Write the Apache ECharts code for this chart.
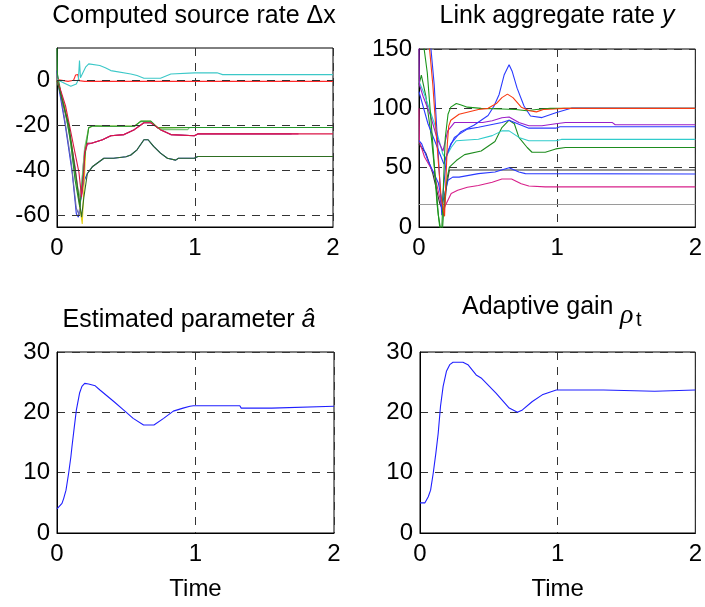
<!DOCTYPE html>
<html>
<head>
<meta charset="utf-8">
<script src="https://cdn.jsdelivr.net/npm/echarts@6/dist/echarts.min.js"></script>
<style>
html,body{margin:0;padding:0;background:#fff;}
#main{width:705px;height:607px;}
</style>
</head>
<body>
<div id="main"></div>
<script>
// ---------- data (time, value) ----------
// Top-left: computed source rate Δx
const TL_cyan = [[0,0.5],[0.05,-1],[0.1,-2.5],[0.14,-1.5],[0.155,0.5],[0.163,9],[0.17,1.3],[0.18,2],[0.207,6],[0.23,7.5],[0.31,6.8],[0.35,5.8],[0.39,4.5],[0.535,3],[0.58,2.3],[0.63,1.1],[0.75,1.1],[0.825,3],[0.995,3.5],[1.16,3.5],[1.2,2.7],[2,2.7]];
const TL_red = [[0,0.5],[0.08,-0.3],[0.12,0.2],[0.135,2.5],[0.15,2.8],[0.16,0],[0.2,-0.3],[2,-0.3]];
const TL_blue = [[0,4.5],[0.01,-2],[0.06,-20],[0.11,-41],[0.14,-59.5],[0.155,-61],[0.175,-52],[0.195,-45],[0.22,-41.5],[0.256,-38.5],[0.34,-34.7],[0.41,-34.7],[0.5,-34],[0.535,-33.2],[0.58,-30.9],[0.63,-26.4],[0.66,-26.4],[0.7,-29.4],[0.75,-32.4],[0.8,-34.7],[0.86,-35.5],[0.88,-34.7],[0.995,-34.7],[1.02,-33.9],[1.72,-33.9]];
const TL_slate = [[0,2],[0.02,-4],[0.05,-15],[0.1,-35],[0.14,-57],[0.16,-60],[0.175,-50],[0.19,-38],[0.2,-32],[0.22,-28],[0.25,-28],[0.33,-26.4],[0.39,-24.6],[0.486,-24.1],[0.56,-21.9],[0.63,-18.8],[0.68,-18.8],[0.75,-21.9],[0.825,-24.1],[0.995,-24.6],[1.02,-23.8],[1.7,-23.8]];
const TL_yellow = [[0,0],[0.06,-12],[0.11,-30],[0.15,-50],[0.183,-64],[0.195,-48],[0.21,-28],[0.23,-21],[0.26,-20.3],[0.56,-20.4],[0.607,-18.2],[0.68,-18.2],[0.73,-21],[1.0,-20.9],[1.7,-20.9]];
const TL_magenta = [[0,1],[0.03,-6],[0.08,-20],[0.13,-38],[0.165,-55],[0.18,-50],[0.2,-33],[0.22,-28.5],[0.25,-28],[0.33,-26.4],[0.39,-24.6],[0.486,-24.1],[0.56,-21.9],[0.63,-18.8],[0.68,-18.8],[0.75,-21.9],[0.825,-24.1],[0.995,-24.6],[1.02,-23.8],[1.75,-23.8]];
const TL_lightgreen = [[0,1],[0.04,-8],[0.09,-24],[0.13,-42],[0.16,-52],[0.18,-45],[0.2,-30],[0.23,-21],[0.26,-20.3],[0.56,-20.4],[0.607,-18.3],[0.68,-18.3],[0.73,-21.1],[0.75,-21.9],[0.947,-21.9],[0.96,-20.9],[1.8,-20.9]];
const TL_green = [[0,14.5],[0.003,3],[0.03,-6],[0.07,-17],[0.1,-28],[0.13,-44],[0.165,-56.5],[0.185,-45],[0.207,-31],[0.23,-21],[0.26,-20.2],[0.35,-20.4],[0.56,-20.4],[0.607,-18.1],[0.68,-18.1],[0.73,-21.1],[1.0,-20.9],[2,-20.9]];
const TL_crimson = [[0,0],[0.02,-3],[0.062,-11.3],[0.11,-26],[0.159,-41],[0.178,-52],[0.195,-41],[0.2,-32],[0.22,-28],[0.25,-28],[0.33,-26.4],[0.39,-24.6],[0.486,-24.1],[0.56,-21.9],[0.63,-18.8],[0.68,-18.8],[0.75,-21.9],[0.825,-24.1],[0.995,-24.6],[1.02,-23.8],[2,-23.8]];
const TL_darkgreen = [[0,0],[0.086,-20],[0.135,-41.5],[0.178,-61],[0.195,-52],[0.22,-41.5],[0.256,-38.5],[0.34,-34.7],[0.41,-34.7],[0.5,-34],[0.535,-33.2],[0.58,-30.9],[0.63,-26.4],[0.66,-26.4],[0.7,-29.4],[0.75,-32.4],[0.8,-34.7],[0.86,-35.5],[0.88,-34.7],[0.995,-34.7],[1.02,-33.9],[2,-33.9]];

// Top-right: link aggregate rate y
const TR_gray = [[0,19],[2,19]];
const TR_black = [[0,70],[0.05,62],[0.1,45],[0.15,20],[0.18,12],[0.2,35],[0.22,48],[1.0,48],[2,48]];
const TR_magenta = [[0,100],[0.003,72],[0.02,66],[0.04,59],[0.11,45],[0.15,25],[0.172,11.7],[0.19,18],[0.233,28.3],[0.28,31],[0.35,33.5],[0.43,35],[0.53,37.7],[0.6,40.5],[0.67,40.5],[0.74,36.4],[0.795,34.5],[0.914,33.8],[2,33.8]];
const TR_blueLow = [[0,72.7],[0.02,70],[0.065,56],[0.14,37],[0.17,20],[0.19,30],[0.21,39.4],[0.244,42],[0.29,42],[0.43,45],[0.55,46.4],[0.652,50],[0.723,46.4],[0.77,45],[2,44.7]];
const TR_green67 = [[0,120],[0.017,128],[0.05,110],[0.09,75],[0.12,40],[0.14,10],[0.155,-1],[0.17,-2],[0.185,25],[0.205,42],[0.22,50.5],[0.27,56],[0.33,61],[0.45,64],[0.55,72],[0.6,83.8],[0.652,90],[0.69,87],[0.723,75.5],[0.783,67],[0.818,63],[0.914,63],[0.99,65.8],[1.06,67],[2,67]];
const TR_cyan = [[0,122.7],[0.04,111.6],[0.113,86.7],[0.172,61.6],[0.19,58],[0.233,67],[0.27,72.7],[0.43,74],[0.53,77],[0.6,81],[0.652,81],[0.723,75.5],[0.795,72.7],[0.99,72.7],[1.03,73.8],[2,73.8]];
const TR_blue84 = [[0,114],[0.065,87],[0.16,59],[0.18,53],[0.21,64],[0.256,75.5],[0.35,82.5],[0.43,84],[0.6,88],[0.652,90],[0.723,86.6],[0.795,83.3],[0.99,83.3],[1.02,84.5],[2,84.5]];
const TR_purple = [[0,152],[0.003,120],[0.03,110],[0.08,95],[0.13,75],[0.173,64],[0.208,81],[0.256,88],[0.46,88],[0.53,89.5],[0.6,92],[0.652,92.7],[0.723,88],[0.795,85.3],[0.89,85.3],[0.99,87],[1.06,88],[1.4,88],[1.42,86.2],[2,86.2]];
const TR_bluePeak = [[0.085,152],[0.11,120],[0.13,80],[0.15,40],[0.165,10],[0.175,30],[0.2,60],[0.23,70],[0.3,80],[0.4,86],[0.5,94],[0.543,102],[0.58,111.7],[0.616,128],[0.652,136.7],[0.675,131],[0.71,117],[0.76,102],[0.807,93.6],[0.89,92.2],[0.99,96.3],[1.107,100.2],[2,100]];
const TR_green100 = [[0.035,152],[0.06,130],[0.1,70],[0.13,20],[0.15,0],[0.165,-2],[0.175,30],[0.19,75],[0.21,95],[0.23,101],[0.27,104],[0.3,103],[0.35,101],[0.45,100],[0.6,99.5],[0.7,99],[0.78,98],[0.85,99],[0.95,100],[2,100]];
const TR_red = [[0.075,152],[0.1,120],[0.13,70],[0.16,25],[0.185,9],[0.195,40],[0.205,70],[0.215,85],[0.23,90],[0.29,95],[0.43,99],[0.5,100],[0.56,104],[0.6,109],[0.64,112],[0.68,109],[0.74,101],[0.8,98],[0.85,97],[0.9,99],[0.98,99.5],[1.05,100],[2,100]];

// Bottom-left: estimated parameter â
const BL_ahat = [[0,4.0],[0.036,4.9],[0.048,5.7],[0.065,7.1],[0.084,9.9],[0.1,12.6],[0.108,14.3],[0.125,17.6],[0.14,20.4],[0.163,23.2],[0.18,24.3],[0.2,24.8],[0.228,24.7],[0.276,24.4],[0.31,23.7],[0.41,21.8],[0.48,20.4],[0.55,19.0],[0.625,17.9],[0.7,17.9],[0.77,19.0],[0.84,20.2],[0.91,20.7],[0.96,21.0],[0.985,21.1],[1.32,21.1],[1.33,20.7],[1.55,20.7],[1.56,21.0],[2,21.0]];
// Bottom-right: adaptive gain ρt
const BR_rho = [[0,5.0],[0.036,5.0],[0.06,6.0],[0.077,7.1],[0.096,9.9],[0.115,13.2],[0.132,16.5],[0.149,21.0],[0.168,24.3],[0.192,26.8],[0.216,27.9],[0.24,28.3],[0.312,28.3],[0.348,27.9],[0.408,26.2],[0.444,25.7],[0.552,23.2],[0.648,20.7],[0.708,20.0],[0.744,20.4],[0.816,21.8],[0.888,22.9],[0.936,23.3],[0.99,23.7],[1.333,23.7],[1.345,23.5],[1.705,23.5],[1.717,23.7],[2,23.7]];

// tick labels / grid values
const xTicks = [0, 1, 2];
const TL_yTicks = [-60, -40, -20, 0];
const TL_yRange = [-65.4, 14.6];
const TR_yRange = [0, 150];
const B_yRange = [0, 30];

// ---------- chart ----------
const FONT = 'Liberation Sans, Arial, sans-serif';
const TICK_FS = 24;
const gridDash = [8, 7];
const gridColor = '#333';

const chart = echarts.init(document.getElementById('main'), null, {renderer: 'canvas'});

const grids = [
  {left: 57, top: 48, width: 276, height: 179},
  {left: 419, top: 49, width: 279, height: 178},
  {left: 57, top: 352, width: 277, height: 181},
  {left: 420, top: 352, width: 278, height: 181}
].map(g => Object.assign({show: true, borderColor: '#000', borderWidth: 1, backgroundColor: '#fff', containLabel: false}, g));

function xAxisFor(i, withName) {
  return {
    type: 'value', gridIndex: i, min: xTicks[0], max: xTicks[xTicks.length - 1], interval: 1,
    axisLine: {show: true, onZero: false, lineStyle: {color: '#000', width: 1}},
    axisTick: {show: false},
    axisLabel: {color: '#000', fontSize: TICK_FS, fontFamily: FONT, margin: 9},
    splitLine: {show: true, lineStyle: {color: gridColor, width: 1, type: gridDash}},
    name: withName ? 'Time' : '', nameLocation: 'middle', nameGap: 44,
    nameTextStyle: {color: '#000', fontSize: TICK_FS, fontFamily: FONT}
  };
}
function yAxisFor(i, range, interval, custom) {
  const ax = {
    type: 'value', gridIndex: i, min: range[0], max: range[1],
    axisLine: {show: true, onZero: false, lineStyle: {color: '#000', width: 1}},
    axisTick: {show: false},
    axisLabel: {color: '#000', fontSize: TICK_FS, fontFamily: FONT, margin: 7},
    splitLine: {show: !custom, lineStyle: {color: gridColor, width: 1, type: gridDash}}
  };
  if (custom) { ax.axisLabel.customValues = custom; }
  else { ax.interval = interval; }
  return ax;
}

function line(data, color, gi, z) {
  return {
    type: 'line', xAxisIndex: gi, yAxisIndex: gi, data: data,
    showSymbol: false, symbol: 'none', silent: true, clip: true,
    lineStyle: {color: color, width: 1.1}, z: z || 2
  };
}

const series = [];
// top-left
series.push(line(TL_blue, '#2a35e6', 0));
series.push(line(TL_slate, '#6c6ca8', 0));
series.push(line(TL_yellow, '#e6d21a', 0));
series.push(line(TL_magenta, '#c8289a', 0));
series.push(line(TL_lightgreen, '#7cc47c', 0));
series.push(line(TL_green, '#22962a', 0));
series.push(line(TL_crimson, '#dc1446', 0));
series.push(line(TL_darkgreen, '#2e6e22', 0));
series.push(line(TL_red, '#ff2a2a', 0));
series.push(line(TL_cyan, '#3cc8c8', 0));
// horizontal grid lines for top-left
series.push({
  type: 'line', xAxisIndex: 0, yAxisIndex: 0, data: [], silent: true, z: 1,
  markLine: {
    silent: true, symbol: ['none', 'none'], label: {show: false},
    lineStyle: {color: gridColor, width: 1, type: gridDash},
    data: TL_yTicks.map(v => ({yAxis: v}))
  }
});
// top-right
series.push(line(TR_gray, '#9a9a9a', 1));
series.push(line(TR_black, '#333333', 1));
series.push(line(TR_magenta, '#d8208a', 1));
series.push(line(TR_blueLow, '#2a3aff', 1));
series.push(line(TR_green67, '#1e8c1e', 1));
series.push(line(TR_cyan, '#30cccc', 1));
series.push(line(TR_blue84, '#2a3aff', 1));
series.push(line(TR_purple, '#9a1ec8', 1));
series.push(line(TR_bluePeak, '#2a3aff', 1));
series.push(line(TR_green100, '#1a961a', 1));
series.push(line(TR_red, '#f83a12', 1));
// bottom
series.push(line(BL_ahat, '#1f1fff', 2));
series.push(line(BR_rho, '#1f1fff', 3));

const titleFont = {fontFamily: FONT, fontSize: 25, fill: '#000'};

const option = {
  animation: false,
  grid: grids,
  xAxis: [xAxisFor(0, false), xAxisFor(1, false), xAxisFor(2, true), xAxisFor(3, true)],
  yAxis: [
    yAxisFor(0, TL_yRange, null, TL_yTicks),
    yAxisFor(1, TR_yRange, 50),
    yAxisFor(2, B_yRange, 10),
    yAxisFor(3, B_yRange, 10)
  ],
  series: series,
  graphic: [
    {type: 'text', x: 194, y: 16, style: Object.assign({text: 'Computed source rate Δx', align: 'center', verticalAlign: 'middle'}, titleFont)},
    {type: 'text', x: 557, y: 16, style: Object.assign({text: 'Link aggregate rate {i|y}', align: 'center', verticalAlign: 'middle',
      rich: {i: {fontStyle: 'italic', fontFamily: FONT, fontSize: 25}}}, titleFont)},
    {type: 'text', x: 189, y: 320, style: Object.assign({text: 'Estimated parameter {i|â}', align: 'center', verticalAlign: 'middle',
      rich: {i: {fontStyle: 'italic', fontFamily: FONT, fontSize: 25}}}, titleFont)},
    {type: 'text', x: 462, y: 307, style: Object.assign({text: 'Adaptive gain', align: 'left', verticalAlign: 'middle'}, titleFont)},
    {type: 'text', x: 620, y: 316, style: {text: 'ρ', align: 'left', verticalAlign: 'middle', fontFamily: 'Liberation Serif, serif', fontStyle: 'italic', fontSize: 28, fill: '#000'}},
    {type: 'text', x: 636, y: 320, style: {text: 't', align: 'left', verticalAlign: 'middle', fontFamily: FONT, fontSize: 20, fill: '#000'}}
  ]
};
chart.setOption(option);
</script>
</body>
</html>
